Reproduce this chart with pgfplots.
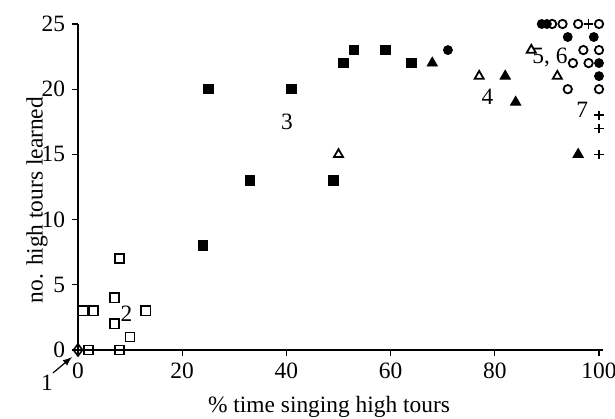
\documentclass[border=0pt]{standalone}
\usepackage{pgfplots}
\pgfplotsset{compat=1.18}
\usepackage{fontspec}
\setmainfont{Liberation Serif}
\begin{document}
\begin{tikzpicture}
\begin{axis}[
    scale only axis,
    width=262.6bp, height=163bp,
    xmin=0, xmax=100.8, ymin=0, ymax=25,
    axis lines=left,
    axis line style={-, line width=0.6pt},
    clip=false,
    font=\fontsize{11.7bp}{14bp}\selectfont,
    /pgf/number format/assume math mode=true,
    xtick={0,20,...,100}, ytick={0,5,...,25},
    tick align=outside, major tick length=3bp,
    tick style={black, line width=0.6pt},
    xlabel={\% time singing high tours},
    ylabel={no. high tours learned},
    x label style={at={(axis description cs:0.478,-0.175)}, anchor=center},
    y label style={at={(axis description cs:-0.078,0.46)}, anchor=center},
    every axis plot/.append style={only marks, black, line width=0.5pt},
]
% corners of the reference picture
\coordinate (bl) at (axis cs:-14.97,-5.29);
\coordinate (tr) at (axis cs:103.07,26.84);
% 1: open diamond
\addplot[mark=diamond, mark size=3bp, mark options={fill=white, line width=0.8pt}] coordinates {(0,0)};
% 2: open squares
\addplot[mark=square, mark size=2.3bp, mark options={fill=white, line width=0.8pt}] coordinates {
 (1,3) (3,3) (2,0) (8,0) (8,7) (7,4) (7,2) (10,1) (13,3)};
% 3: filled squares
\addplot[mark=square*, mark size=2.4bp] coordinates {
 (24,8) (25,20) (33,13) (41,20) (49,13) (51,22) (53,23) (59,23) (64,22)};
% open triangles
\addplot[mark=triangle, mark size=2.6bp, mark options={fill=white, line width=0.9pt}] coordinates {
 (50,15) (77,21) (87,23) (92,21)};
% filled triangles
\addplot[mark=triangle*, mark size=2.9bp] coordinates {
 (68,22) (82,21) (84,19) (96,15)};
% filled circles
\addplot[mark=*, mark size=2.2bp] coordinates {
 (71,23) (89,25) (90,25) (94,24) (99,24) (100,22) (100,21)};
% open circles
\addplot[mark=o, mark size=2.1bp, mark options={line width=0.9pt}] coordinates {
 (91,25) (93,25) (96,25) (100,25) (97,23) (100,23) (95,22) (98,22) (94,20) (100,20)};
% plus
\addplot[mark=+, mark size=2.3bp, mark options={line width=0.8pt}] coordinates {
 (98,25) (100,18) (100,17) (100,15)};
% group labels
\node at (axis cs:9.3,2.8) {2};
\node at (axis cs:40.1,17.5) {3};
\node at (axis cs:78.6,19.4) {4};
\node at (axis cs:90.6,22.4) {5, 6};
\node at (axis cs:96.8,18.4) {7};
\node at (axis cs:-5.95,-2.53) {1};
\draw[-latex, line width=0.6pt] (axis cs:-4.8,-1.76) -- (axis cs:-1.15,-0.54);
\end{axis}
\pgfresetboundingbox
\path (bl) rectangle (tr);
\end{tikzpicture}
\end{document}
